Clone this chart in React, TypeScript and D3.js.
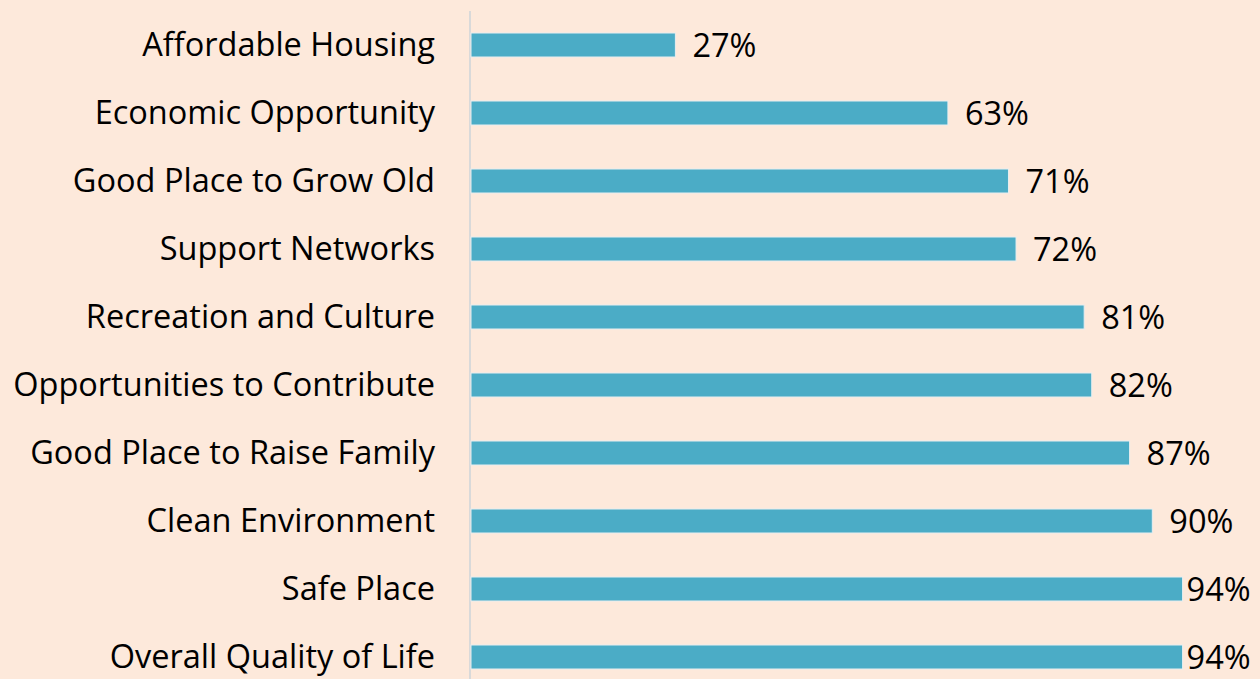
import React from "react";
import * as d3 from "d3";

const categories = [
  "Affordable Housing",
  "Economic Opportunity",
  "Good Place to Grow Old",
  "Support Networks",
  "Recreation and Culture",
  "Opportunities to Contribute",
  "Good Place to Raise Family",
  "Clean Environment",
  "Safe Place",
  "Overall Quality of Life",
];
const values = [0.27, 0.63, 0.71, 0.72, 0.81, 0.82, 0.87, 0.9, 0.94, 0.94];

const W = 1260;
const H = 679;
const FONT = "'Open Sans', Lato, sans-serif";

export default function App() {
  const x = d3.scaleLinear().domain([0, 1]).range([471, 1228]);
  const y = d3
    .scaleBand<string>()
    .domain(categories)
    .range([11, 691])
    .paddingInner(0.647)
    .paddingOuter(0.3235);
  const fmt = d3.format(".0%");
  const labelW = 64;
  return (
    <div style={{ position: "fixed", left: 0, top: 0 }}>
      <svg width={W} height={H} style={{ display: "block" }}>
        <rect x={0} y={0} width={W} height={H} fill="#FDE9DB" />
        <line x1={470} x2={470} y1={11} y2={H} stroke="#D9D9D9" strokeWidth={2} />
        {categories.map((c, i) => {
          const y0 = y(c)!;
          const bw = y.bandwidth();
          const end = x(values[i]);
          const over = end + 17 + labelW > W - 8;
          return (
            <g key={c}>
              <rect
                x={x(0)}
                y={y0}
                width={end - x(0)}
                height={bw}
                fill="#4BACC6"
                stroke="#E8EEF0"
                strokeWidth={1}
              />
              <text
                x={435}
                y={y0 + bw / 2 + 11}
                textAnchor="end"
                fontFamily={FONT}
                fontSize={32.5}
                fill="#000"
              >
                {c}
              </text>
              <text
                x={over ? end + 4 : end + 17}
                y={y0 + bw / 2 + 12}
                textAnchor="start"
                fontFamily={FONT}
                fontSize={32.5}
                fill="#000"
              >
                {fmt(values[i])}
              </text>
            </g>
          );
        })}
      </svg>
    </div>
  );
}
